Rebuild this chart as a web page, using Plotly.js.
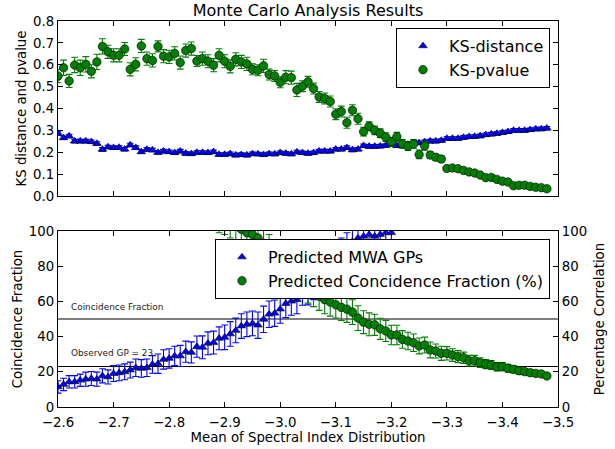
<!DOCTYPE html>
<html>
<head>
<meta charset="utf-8">
<script src="https://cdn.plot.ly/plotly-3.0.1.min.js"></script>
<style>html,body{margin:0;padding:0;background:#fff;}#chart{width:615px;height:449px;}</style>
</head>
<body>
<div id="chart"></div>
<script>
// ---- data ----
const spectral_index = [-2.60,-2.61,-2.62,-2.63,-2.64,-2.65,-2.66,-2.67,-2.68,-2.69,-2.70,-2.71,-2.72,-2.73,-2.74,-2.75,-2.76,-2.77,-2.78,-2.79,-2.80,-2.81,-2.82,-2.83,-2.84,-2.85,-2.86,-2.87,-2.88,-2.89,-2.90,-2.91,-2.92,-2.93,-2.94,-2.95,-2.96,-2.97,-2.98,-2.99,-3.00,-3.01,-3.02,-3.03,-3.04,-3.05,-3.06,-3.07,-3.08,-3.09,-3.10,-3.11,-3.12,-3.13,-3.14,-3.15,-3.16,-3.17,-3.18,-3.19,-3.20,-3.21,-3.22,-3.23,-3.24,-3.25,-3.26,-3.27,-3.28,-3.29,-3.30,-3.31,-3.32,-3.33,-3.34,-3.35,-3.36,-3.37,-3.38,-3.39,-3.40,-3.41,-3.42,-3.43,-3.44,-3.45,-3.46,-3.47,-3.48];

const ks_distance = [0.286,0.266,0.274,0.251,0.251,0.251,0.248,0.240,0.213,0.224,0.221,0.222,0.214,0.233,0.221,0.202,0.213,0.210,0.199,0.205,0.202,0.198,0.205,0.195,0.193,0.199,0.199,0.198,0.202,0.190,0.190,
  0.193,0.187,0.189,0.187,0.193,0.192,0.189,0.193,0.192,0.198,0.195,0.192,0.201,0.198,0.195,0.198,0.205,0.205,0.205,0.214,0.214,0.221,0.211,0.214,0.230,0.227,0.227,0.228,0.231,0.236,
  0.230,0.233,0.236,0.243,0.243,0.248,0.251,0.251,0.254,0.263,0.263,0.263,0.268,0.271,0.272,0.275,0.280,0.283,0.286,0.290,0.294,0.300,0.300,0.300,0.303,0.306,0.307,0.310];
const ks_distance_err = 0.008;

const ks_pvalue = [0.548,0.586,0.526,0.599,0.586,0.602,0.570,0.613,0.684,0.659,0.643,0.643,0.672,0.579,0.602,0.686,0.628,0.620,0.684,0.639,0.636,0.652,0.610,0.665,0.674,0.617,0.628,0.616,0.598,0.643,0.616,
  0.593,0.625,0.613,0.604,0.579,0.575,0.595,0.555,0.549,0.520,0.543,0.541,0.485,0.502,0.522,0.491,0.453,0.446,0.432,0.374,0.386,0.335,0.392,0.353,0.294,0.319,0.300,0.287,0.269,0.248,
  0.271,0.238,0.228,0.238,0.190,0.229,0.187,0.177,0.169,0.126,0.128,0.125,0.117,0.110,0.105,0.096,0.084,0.085,0.076,0.068,0.064,0.047,0.049,0.049,0.044,0.040,0.038,0.033];
const ks_pvalue_err = [0.03,0.035,0.03,0.035,0.035,0.035,0.03,0.035,0.035,0.03,0.03,0.03,0.03,0.03,0.03,0.03,0.03,0.03,0.025,0.03,0.03,0.03,0.03,0.03,0.03,0.025,0.03,0.03,0.03,0.03,0.03,
  0.03,0.03,0.03,0.03,0.025,0.025,0.03,0.025,0.025,0.025,0.03,0.03,0.03,0.025,0.025,0.025,0.025,0.025,0.025,0.025,0.025,0.025,0.025,0.025,0.02,0.02,0.02,0.02,0.02,0.02,
  0.02,0.02,0.02,0.02,0.02,0.02,0.015,0.015,0.015,0.008,0.008,0.008,0.007,0.007,0.007,0.007,0.006,0.006,0.006,0.006,0.005,0.005,0.005,0.005,0.005,0.005,0.005,0.005];

const predicted_gps = [11.4,12.8,14.3,14.3,15.2,15.8,16.2,15.8,17.7,17.1,19.0,19.4,20.0,21.0,22.3,21.9,22.3,24.2,24.6,27.0,27.6,29.0,29.0,31.4,31.0,34.3,33.9,36.2,36.6,39.0,39.6,
  41.5,43.5,46.0,47.0,47.5,46.5,49.8,52.7,53.3,55.6,58.8,60.1,61.0,65.8,66.0,
  69,72,76,80,84,88,91,94,
  96,97,98,97,98,99,99,
  112,114,116,118,120,122,124,126,128,130,132,134,136,138,140,142,144,146,148,150,152,154,156,158,160,162,164,166];
const predicted_gps_err = [3.5,3.5,3.5,3.5,3.5,4,4,4,4,4,4.5,4.5,4.5,4.5,5,5,5,5,5.5,5.5,5.5,5.5,6,6,6,6,6.5,6.5,6.5,6.5,7,
  7,7,7,7,7,7.5,7.5,7.5,7.5,8,8,8,8,8,8,
  8,8,8,8,8,8,8,8,8,8,8,8,8,8,8,
  8,8,8,8,8,8,8,8,8,8,8,8,8,8,8,8,8,8,8,8,8,8,8,8,8,8,8,8];

const coincidence_fraction = [190,186,182,178,174,170,166,162,158,154,150,147,144,141,138,135,132,129,126,124,122,120,118,116,114,113,112,111,110,
  107,106,104,103,101,99,98,96,
  93,90,87,84,80,77,74,71,
  67,65,62.9,61,59.6,58.1,56.6,55.6,53.9,50.5,48.2,47,46.7,44.4,43.2,40.9,40.9,38.4,37.5,36.5,34.7,35.2,32.4,31.8,30.5,30.5,29.5,28.6,28,26.3,26.3,25.2,24.4,23.9,22.9,22.9,22,21.4,20.6,20.1,19.5,19.1,18.8,17.6];
const coincidence_fraction_err = [8,8,8,8,8,8,8,8,8,8,8,8,8,8,8,8,8,8,8,8,8,8,8,8,8,8,8,8,8,8,8,8,8,8,8,8,8,8,8,8,8,8,8,8,8,
  8,8,8,8,8,7.5,7.5,7.5,7,7,6.5,6.5,6,6,6,5.5,5.5,5,5,5,4.5,4.5,4.5,4,4,3.8,3.6,3.4,3.2,3,3,2.8,2.6,2.5,2.4,2.3,2.2,2,2,1.8,1.7,1.6,1.5,1.3];

const coincidence_level = 50;
const observed_gp = 23;
const x_ticks = [-2.6,-2.7,-2.8,-2.9,-3.0,-3.1,-3.2,-3.3,-3.4,-3.5];

// ---- style ----
const BLUE = '#0000ff', GREEN = '#008000';
const FONT = 'DejaVu Sans, sans-serif';

function errOpts(arr, color, constVal) {
  const o = {visible: true, color: color, thickness: 1.1, width: 3.4};
  if (constVal !== undefined) { o.type = 'constant'; o.value = constVal; }
  else { o.type = 'data'; o.array = arr; }
  return o;
}

const traces = [
  {x: spectral_index, y: ks_distance, xaxis: 'x', yaxis: 'y', type: 'scatter', mode: 'markers', name: 'KS-distance', legend: 'legend',
   marker: {symbol: 'triangle-up', size: 7.5, color: BLUE, line: {color: '#000', width: 0.6}},
   error_y: errOpts(null, BLUE, ks_distance_err)},
  {x: spectral_index, y: ks_pvalue, xaxis: 'x', yaxis: 'y', type: 'scatter', mode: 'markers', name: 'KS-pvalue', legend: 'legend',
   marker: {symbol: 'circle', size: 8.5, color: GREEN, line: {color: '#000', width: 0.6}},
   error_y: errOpts(ks_pvalue_err, GREEN)},
  {x: spectral_index, y: predicted_gps, xaxis: 'x2', yaxis: 'y2', type: 'scatter', mode: 'markers', name: 'Predicted MWA GPs', legend: 'legend2',
   marker: {symbol: 'triangle-up', size: 7.5, color: BLUE, line: {color: '#000', width: 0.6}},
   error_y: errOpts(predicted_gps_err, BLUE)},
  {x: spectral_index, y: coincidence_fraction, xaxis: 'x2', yaxis: 'y3', type: 'scatter', mode: 'markers', name: 'Predicted Concidence Fraction (%)', legend: 'legend2',
   marker: {symbol: 'circle', size: 8.5, color: GREEN, line: {color: '#000', width: 0.6}},
   error_y: errOpts(coincidence_fraction_err, GREEN)}
];

const tickFont = {family: FONT, size: 13.3, color: '#000'};
const titleFont = {family: FONT, size: 13.3, color: '#000'};

const xCommon = {
  range: [-2.6, -3.5], tickvals: x_ticks, tickformat: '.1f', ticks: 'inside', ticklen: 5, tickwidth: 1, tickcolor: '#000',
  showline: true, linecolor: '#000', linewidth: 1.1, mirror: 'ticks', showgrid: false, zeroline: false, tickfont: tickFont
};

const layout = {
  width: 615, height: 449,
  margin: {l: 58, r: 57, t: 21, b: 42, pad: 0},
  paper_bgcolor: '#fff', plot_bgcolor: '#fff',
  font: {family: FONT, color: '#000'},
  title: {text: 'Monte Carlo Analysis Results', font: {family: FONT, size: 16, color: '#000'},
          x: 0.5, xref: 'paper', xanchor: 'center', y: 1 - 10/449, yref: 'container', yanchor: 'middle'},
  xaxis: Object.assign({}, xCommon, {anchor: 'y', domain: [0, 1], showticklabels: false}),
  yaxis: {domain: [0.5466, 1], anchor: 'x', range: [0, 0.8], dtick: 0.1, tickformat: '.1f', ticks: 'inside', ticklen: 5, tickcolor: '#000',
          showline: true, linecolor: '#000', linewidth: 1.1, mirror: 'ticks', showgrid: false, zeroline: false, tickfont: tickFont,
          title: {text: 'KS distance and pvalue', font: titleFont, standoff: 3}},
  xaxis2: Object.assign({}, xCommon, {anchor: 'y2', domain: [0, 1], ticklabelstandoff: 3,
          title: {text: 'Mean of Spectral Index Distribution', font: titleFont, standoff: 3}}),
  yaxis2: {domain: [0, 0.456], anchor: 'x2', range: [0, 100], dtick: 20, ticks: 'inside', ticklen: 5, tickcolor: '#000',
          showline: true, linecolor: '#000', linewidth: 1.1, showgrid: false, zeroline: false, tickfont: tickFont,
          title: {text: 'Coincidence Fraction', font: titleFont, standoff: 3}},
  yaxis3: {overlaying: 'y2', side: 'right', anchor: 'x2', range: [0, 100], dtick: 20, ticks: 'inside', ticklen: 5, tickcolor: '#000',
          showline: true, linecolor: '#000', linewidth: 1.1, showgrid: false, zeroline: false, tickfont: tickFont,
          title: {text: 'Percentage Correlation', font: titleFont, standoff: 8}},
  legend: {x: 0.984, y: 0.982, xanchor: 'right', yanchor: 'top', xref: 'paper', yref: 'paper',
           bgcolor: '#fff', bordercolor: '#000', borderwidth: 1, font: {family: FONT, size: 16, color: '#000'},
           itemwidth: 42, tracegroupgap: 0},
  legend2: {x: 0.984, y: 0.435, xanchor: 'right', yanchor: 'top', xref: 'paper', yref: 'paper',
           bgcolor: '#fff', bordercolor: '#000', borderwidth: 1, font: {family: FONT, size: 16, color: '#000'},
           itemwidth: 42, tracegroupgap: 0},
  showlegend: true,
  shapes: [
    {type: 'line', xref: 'x2 domain', x0: 0, x1: 1, yref: 'y2', y0: coincidence_level, y1: coincidence_level, line: {color: '#000', width: 1.1}, layer: 'below'},
    {type: 'line', xref: 'x2 domain', x0: 0, x1: 1, yref: 'y2', y0: observed_gp, y1: observed_gp, line: {color: '#000', width: 1.1}, layer: 'below'}
  ],
  annotations: [
    {text: 'Coincidence Fraction', xref: 'x2', yref: 'y2', x: -2.62, y: coincidence_level + 6.6, xanchor: 'left', yanchor: 'middle', showarrow: false,
     font: {family: FONT, size: 8.9, color: '#222'}},
    {text: 'Observed GP = ' + observed_gp, xref: 'x2', yref: 'y2', x: -2.62, y: observed_gp + 7.5, xanchor: 'left', yanchor: 'middle', showarrow: false,
     font: {family: FONT, size: 8.9, color: '#222'}}
  ]
};

Plotly.newPlot('chart', traces, layout, {staticPlot: true, displayModeBar: false});
</script>
</body>
</html>
